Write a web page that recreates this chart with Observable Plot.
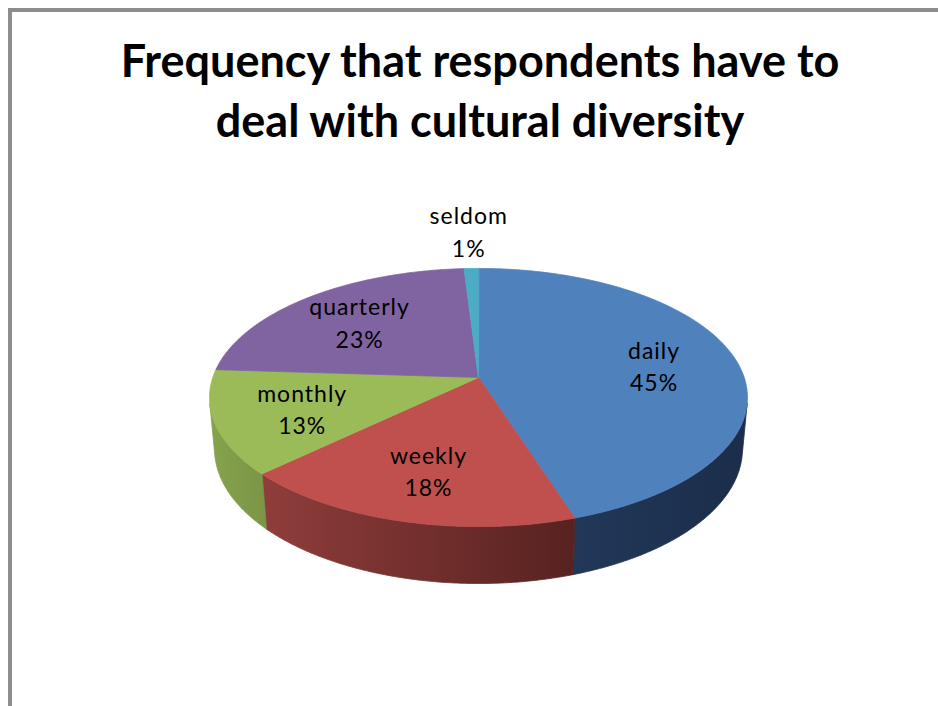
<!DOCTYPE html>
<html>
<head>
<meta charset="utf-8">
<script src="https://cdn.jsdelivr.net/npm/d3@7"></script>
<script src="https://cdn.jsdelivr.net/npm/@observablehq/plot@0.6"></script>
<style>
  html, body { margin: 0; padding: 0; background: #fff; overflow: hidden; width: 938px; height: 706px; }
  #page { position: relative; width: 938px; height: 706px; overflow: hidden; background: #fff; }
  .rule { position: absolute; background: #8c8c8c; }
  #ruleTop { left: 8px; top: 8px; width: 930px; height: 4px; }
  #ruleLeft { left: 8px; top: 8px; width: 4px; height: 698px; }
  #rightPad { position: absolute; left: 916px; top: 12px; width: 22px; height: 694px; background: #fff; z-index: 5; }
  #title { position: absolute; left: 12px; top: 0; width: 936px; padding-top: 30px;
           text-align: center; font-family: Lato, "Open Sans", sans-serif; font-weight: 700;
           font-size: 45px; line-height: 60px; color: #000; letter-spacing: 0px; }
  #chart { position: absolute; left: 0; top: 160px; width: 938px; height: 546px; overflow: hidden; }
  #chart svg { display: block; }
  #chart svg text { letter-spacing: 1px; }
</style>
</head>
<body>
<div id="page">
  <div class="rule" id="ruleTop"></div>
  <div class="rule" id="ruleLeft"></div>
  <div id="title">Frequency that respondents have to<br>deal with cultural diversity</div>
  <div id="chart"></div>
  <div id="rightPad"></div>
</div>
<script>
// ---- data ----
const categories = ["daily", "weekly", "monthly", "quarterly", "seldom"];
const values = [45, 18, 13, 23, 1];
const percentLabels = ["45%", "18%", "13%", "23%", "1%"];

// ---- styles ----
const topColors = ["#4F81BD", "#C0504D", "#9BBB59", "#8064A2", "#4BACC6"];
const wallLight = ["#213859", "#8F3D3B", "#86A34D", "#654F82", "#3A8DA3"];
const wallDark  = ["#1B2D4A", "#572220", "#7A9546", "#4F3E66", "#2E7083"];

// ---- 3D pie view (perspective) ----
const W = 938, H = 546;
const cx = 478, cy = 217;          // projected pie centre in svg
const focal = 1509;                 // projection scale
const camDist = 5.679;              // camera distance (pie radii)
const tilt = 28.3 * Math.PI / 180;  // elevation
const thick = 0.222;                // pie thickness (pie radii)
const sT = Math.sin(tilt), cT = Math.cos(tilt);

function proj(t, r, h) {
  const X = r * Math.sin(t), Z = -r * Math.cos(t);
  const depth = camDist - h * sT - Z * cT;
  return {x: X / depth, y: (Z * sT - h * cT) / depth};
}

const arcs = d3.pie().sort(null).value(d => d)(values);
const visLo = Math.acos(-1 / (camDist * cT));
const visHi = 2 * Math.PI - visLo;
const step = Math.PI / 360;

const faces = [], walls = [];
arcs.forEach((a, i) => {
  const a0 = a.startAngle, a1 = a.endAngle;
  const n = Math.max(2, Math.ceil((a1 - a0) / step));
  const face = [proj(0, 0, 0)];
  for (let j = 0; j <= n; j++) face.push(proj(a0 + (a1 - a0) * j / n, 1, 0));
  faces.push(face);
  const lo = Math.max(a0, visLo), hi = Math.min(a1, visHi);
  if (hi > lo) {
    const m = Math.max(2, Math.ceil((hi - lo) / step));
    const wall = [];
    for (let j = 0; j <= m; j++) wall.push(proj(lo + (hi - lo) * j / m, 1, 0));
    for (let j = m; j >= 0; j--) wall.push(proj(lo + (hi - lo) * j / m, 1, -thick));
    walls.push({i, pts: wall});
  }
});

const labels = arcs.map((a, i) => {
  const outside = values[i] < 5;
  const mid = (a.startAngle + a.endAngle) / 2;
  const p = proj(mid, outside ? 1.43 : 0.68, 0);
  return {x: p.x, y: p.y, text: categories[i] + "\n" + percentLabels[i]};
});

const marks = [];
walls.forEach(w => marks.push(Plot.line(w.pts, {
  x: "x", y: "y", curve: "linear-closed",
  fill: `url(#wall${w.i})`, stroke: `url(#wall${w.i})`, strokeWidth: 0.8
})));
faces.forEach((f, i) => marks.push(Plot.line(f, {
  x: "x", y: "y", curve: "linear-closed",
  fill: topColors[i], stroke: topColors[i], strokeWidth: 0.8
})));
marks.push(Plot.text(labels, {
  x: "x", y: "y", text: "text", fontSize: 23, lineHeight: 1.4,
  fill: "#000", fontFamily: "Lato, 'Open Sans', sans-serif", textAnchor: "middle"
}));

const svg = Plot.plot({
  width: W, height: H, margin: 0,
  x: {domain: [(0 - cx) / focal, (W - cx) / focal], range: [0, W], axis: null},
  y: {domain: [(0 - cy) / focal, (H - cy) / focal], range: [0, H], axis: null},
  style: {background: "transparent"},
  marks
});

const defs = d3.select(svg).insert("defs", ":first-child");
wallLight.forEach((c, i) => {
  const g = defs.append("linearGradient").attr("id", `wall${i}`)
    .attr("x1", 0).attr("y1", 0).attr("x2", 1).attr("y2", 0);
  g.append("stop").attr("offset", "0%").attr("stop-color", c);
  g.append("stop").attr("offset", "100%").attr("stop-color", wallDark[i]);
});

document.getElementById("chart").appendChild(svg);
</script>
</body>
</html>
